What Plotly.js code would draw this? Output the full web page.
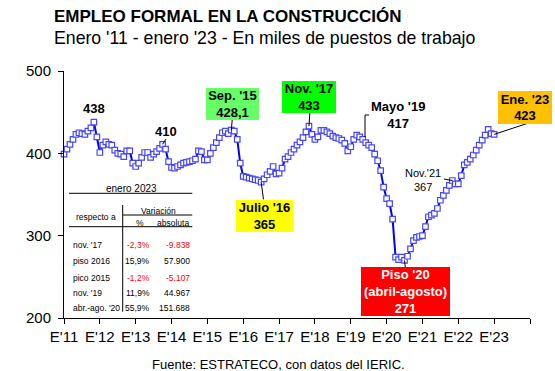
<!DOCTYPE html>
<html>
<head>
<meta charset="utf-8">
<script src="https://cdn.plot.ly/plotly-3.0.1.min.js"></script>
<style>html,body{margin:0;padding:0;background:#fff;}#chart{width:555px;height:371px;}</style>
</head>
<body>
<div id="chart"></div>
<script>
// Monthly formal construction employment (thousands), Jan 2011 .. Jan 2023
const empleo = [
 399,405,411,417,423,425,424,423,427,431,438,420,
 401,410,414,411,410,404,400,399,396,403,403,388,
 384,388,395,401,401,395,399,402,406,411,405,390,
 383,382,384,386,388,389,390,391,393,403,402,392,
 392,400,407,413,419,425,427,424,428.1,427,417,388,
 372,371,370,369,368,367,365,369,374,378,384,375,
 376,382,393,396,401,405,410,414,419,426,433,423,
 417,420,428,428,426,424,421,419,418,416,412,403,
 408,417,422,420,417,413,410,407,399,391,379,359,
 345,339,320,274,271,274,270,275,284,294,298,299,
 300,311,323,325,327,333,343,349,355,361,367,363,
 363,373,386,389,393,398,404,410,416,422,429,424,
 423
];
const xTickVals = [0,12,24,36,48,60,72,84,96,108,120,132,144,156];
const xTickText = ["E'11","E'12","E'13","E'14","E'15","E'16","E'17","E'18","E'19","E'20","E'21","E'22","E'23",""];
const yTickVals = [200,300,400,500];

// table content
const tblRows = ["nov. '17","piso 2016","pico 2015","nov. '19","abr.-ago. '20"];
const tblPct = ["-2,3%","15,9%","-1,2%","11,9%","55,9%"];
const tblAbs = ["-9.838","57.900","-5.107","44.967","151.688"];

const W=555,H=371,L=64,R=25,T=71,B=53;
const PW=W-L-R, PH=H-T-B;
const XMAX=156, YMIN=200, YMAX=500;
const px = x => (x-L)/PW;
const py = y => (H-B-y)/PH;
const dx = i => i/XMAX;
const dy = v => (v-YMIN)/(YMAX-YMIN);
const FONT = "Liberation Sans, Arial, sans-serif";

const idx = empleo.map((v,i)=>i);

const annotations = [];
const shapes = [];
function txt(text,x,y,size,opts){
  opts = opts||{};
  annotations.push({xref:'paper',yref:'paper',x:px(x),y:py(y),text:text,showarrow:false,
    xanchor:opts.xa||'center',yanchor:'middle',align:opts.align||'center',
    font:{family:FONT,size:size,color:opts.color||'#000'}});
}
function box(text,cx,cy,w,h,bg,color){
  annotations.push({xref:'paper',yref:'paper',x:px(cx),y:py(cy),text:text,showarrow:false,
    xanchor:'center',yanchor:'middle',align:'center',width:w,height:h,bgcolor:bg,
    borderwidth:0,borderpad:0,font:{family:FONT,size:13,color:color||'#000'}});
}
function pline(x0,y0,x1,y1){
  shapes.push({type:'line',xref:'paper',yref:'paper',x0:px(x0),y0:py(y0),x1:px(x1),y1:py(y1),line:{color:'#000',width:1}});
}
function dline(i,v,x1,y1){
  shapes.push({type:'line',xref:'paper',yref:'paper',x0:dx(i),y0:dy(v),x1:px(x1),y1:py(y1),line:{color:'#000',width:1}});
}

// titles
txt('<b>EMPLEO FORMAL EN LA CONSTRUCCIÓN</b>',52,16.5,17,{xa:'left'});
txt("Enero '11 - enero '23 - En miles de puestos de trabajo",52,38,17.7,{xa:'left'});
txt('Fuente: ESTRATECO, con datos del IERIC.',278,364,13);

// point labels
txt('<b>438</b>',94,108,13);
txt('<b>410</b>',166,131,13);
dline(33,empleo[33],166,139);
txt("<b>Mayo '19<br>417</b>",398,115,13);
shapes.push({type:'path',xref:'paper',yref:'paper',
  path:`M ${px(365)} ${py(137)} L ${px(365)} ${py(115)} L ${px(369)} ${py(115)}`,line:{color:'#000',width:1}});
txt("Nov.'21<br>367",423,180,11);
dline(130,empleo[130],444,179);

box("<b>Sep. '15<br>428,1</b>",232.4,104.2,53,32,'#66ff66');
dline(56,empleo[56],232.2,120);
box("<b>Nov. '17<br>433</b>",308.8,96.7,54,32,'#00ff00');
dline(82,empleo[82],309.9,112.7);
box("<b>Ene. '23<br>423</b>",525.3,107,54,33,'#ffc000');
dline(144,empleo[144],527,123.5);
box("<b>Julio '16<br>365</b>",264.7,215.5,57,32,'#ffff00');
dline(66,empleo[66],263.5,199.3);
box("<b>Piso '20<br>(abril-agosto)<br>271</b>",405.3,291.7,89,49,'#ff0000','#ffffff');
dline(114,empleo[114],405.3,267.3);

// table
txt('enero 2023',131,188,10);
pline(69,193.3,192.3,193.3);
txt('Variación',158.3,211,8.5);
pline(123,215,192.3,215);
txt('respecto a',96,217,8.5);
txt('%',140,222.5,8.5);
txt('absoluta',173.3,222.5,8.5);
pline(69,226.7,192.3,226.7);
pline(122.7,205,122.7,311.7);
const rowY=[245,261,278,293,308];
tblRows.forEach((r,k)=>{
  const red = tblPct[k].charAt(0)==='-';
  txt(r,71,rowY[k],8.5,{xa:'left'});
  annotations.push({xref:'paper',yref:'paper',x:px(152.3),y:py(rowY[k]),text:tblPct[k],showarrow:false,xanchor:'right',yanchor:'middle',font:{family:FONT,size:8.5,color:red?'#ff0000':'#000'}});
  annotations.push({xref:'paper',yref:'paper',x:px(192),y:py(rowY[k]),text:tblAbs[k],showarrow:false,xanchor:'right',yanchor:'middle',font:{family:FONT,size:8.5,color:red?'#ff0000':'#000'}});
});

const trace = {
  x: idx, y: empleo, type:'scatter', mode:'lines+markers',
  line:{color:'#0000ff',width:2},
  marker:{symbol:'square',size:5.5,color:'#ffffff',line:{color:'#4646ff',width:1.2}},
  hoverinfo:'y', cliponaxis:false
};

const layout = {
  width:W,height:H,margin:{l:L,r:R,t:T,b:B,pad:0},
  paper_bgcolor:'#fff',plot_bgcolor:'#fff',showlegend:false,
  font:{family:FONT,color:'#000'},
  xaxis:{range:[0,XMAX],tickmode:'array',tickvals:xTickVals,ticktext:xTickText,
    showline:true,linecolor:'#000',linewidth:1,ticks:'outside',ticklen:5,tickcolor:'#000',tickwidth:1,
    showgrid:false,zeroline:false,tickfont:{size:15,family:FONT,color:'#000'},tickangle:0},
  yaxis:{range:[YMIN,YMAX],tickmode:'array',tickvals:yTickVals,ticklabelstandoff:4,
    showline:true,linecolor:'#000',linewidth:1,ticks:'outside',ticklen:5,tickcolor:'#000',tickwidth:1,
    showgrid:false,zeroline:false,tickfont:{size:15,family:FONT,color:'#000'}},
  annotations:annotations, shapes:shapes
};
Plotly.newPlot('chart',[trace],layout,{displayModeBar:false,staticPlot:true});
</script>
</body>
</html>
